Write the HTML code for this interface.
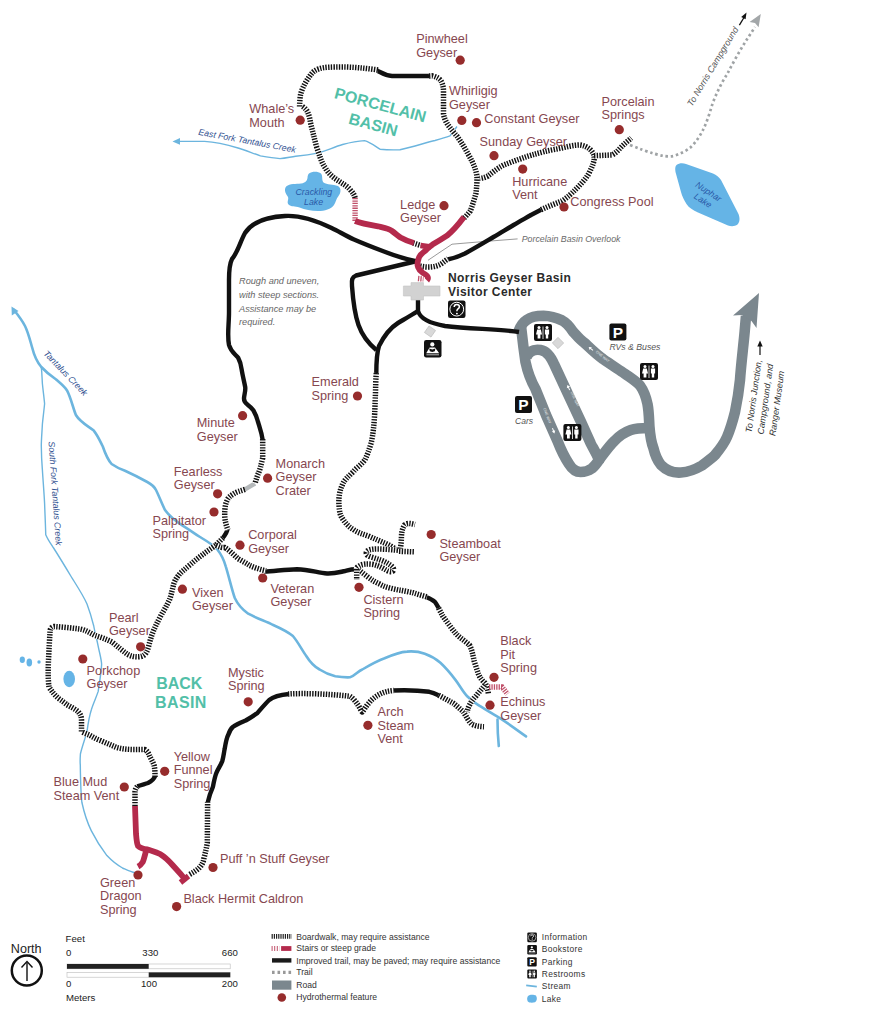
<!DOCTYPE html><html><head><meta charset="utf-8"><title>Norris Geyser Basin</title>
<style>html,body{margin:0;padding:0;background:#fff;}body{width:896px;height:1023px;overflow:hidden;}svg{display:block;}text{font-family:"Liberation Sans", sans-serif;}</style></head><body>
<svg width="896" height="1023" viewBox="0 0 896 1023">
<rect width="896" height="1023" fill="#fff"/>
<path d="M 309 173.5 C 312 171 318 171 321 173.5 C 323 176 321.5 180 323.5 182.5 C 327 185 333 184 338 186 C 341.5 188 341 193 338.5 196 C 336 199 336 202 334 205 C 331 209 325 211 318 211 C 311 211 305 209.5 299.5 207.5 C 295 206 291 207 288.5 204.5 C 286.5 202 289 199.5 288 197 C 286 194 284 191 285.5 187.5 C 287.5 184 294 184 299 183.8 C 305 183.5 307 181 307.5 178 C 307.5 176 308 174.5 309 173.5 Z" fill="#65b4e6"/>
<path d="M 676.5 165 C 679 163 683 163 686 164 L 713 173.5 C 716.5 175 719 177 721 180 L 738.5 214 C 740 218 740 222 737.5 224.5 C 735 226.5 731 226.5 728 225.5 L 698 212.5 C 693 210 689 208 686.5 204 C 684 200 682 196 681 192 L 675.5 172 C 675 169 675 166.5 676.5 165 Z" fill="#65b4e6"/>
<ellipse cx="69.2" cy="679" rx="5.8" ry="8.3" fill="#65b4e6"/>
<ellipse cx="22.3" cy="659.7" rx="2.6" ry="3.3" fill="#65b4e6"/>
<ellipse cx="29.3" cy="662.5" rx="2.8" ry="4" fill="#65b4e6"/>
<circle cx="39" cy="662" r="1.7" fill="#65b4e6"/>
<path d="M 14 310 C 18 315 22 320 25 326 C 28 332 30 340 32 347 C 34 355 37 362 41.3 367 C 46 372 51 376 55.8 379.3 C 60 383 64 386 67 390.4 C 71 398 73 408 75.9 415 C 80 422 88 426 93.75 430.6 C 98 436 100 441 102.7 446.25 C 105 453 108 460 111.6 464 C 116 467 120 469 125 470.8 C 132 474 140 478 147.3 482 C 151 484 154 486 156 490 C 159 496 162 504 165 510 C 170 517 177 522 183 525.8 C 190 530 195 534 200 537 C 205 540 212 544 217 549 C 221 554 224 560 225.9 566.8 C 229 577 232 590 234.8 598 C 238 605 243 610 248.2 613.7 C 256 618 265 621 272.8 624.8 C 280 628 287 631 292.9 636 C 298 642 302 650 306.25 656 C 310 662 315 667 319.6 669.5 C 325 673 330 675 335.3 676.2 C 340 677 345 677.5 350 677.3 C 355 676 358 671 362.3 669.5 C 370 665 377 661 384.6 658.3 C 392 655 400 652 407 651.6 C 414 651 420 652 424.8 653.8 C 431 656 436 659 440.4 662.8 C 446 668 451 674 456 680.6 C 460 686 463 692 467.2 696.25 C 471 700 475 703 478.4 705.2 C 486 710 493 714 500.7 718.6 C 509 724 517 730 526 736.4" fill="none" stroke="#6cb5de" stroke-width="2.6" stroke-linejoin="round" stroke-linecap="round"/>
<path d="M 497.5 719.5 C 497.5 728 498 738 498.8 746" fill="none" stroke="#6cb5de" stroke-width="2.6" stroke-linejoin="round" stroke-linecap="round"/>
<path d="M 41.3 367 C 42 373 42 378 42.4 383.75 C 43 390 44 397 44.6 403.8 C 44 410 43 418 42.4 424 C 42 432 41.3 440 41.3 446 C 41.5 460 42 465 42.4 470 C 43 480 44 492 44.6 503.5 C 45 515 45.5 525 45.75 534.7 C 48 540 51 544 53.6 548 C 60 558 66 568 71.4 577 C 77 586 83 595 87 604 C 90 612 92 619 93.75 626 C 95 633 97 640 98.2 646.3 C 100 655 101.6 660 101.6 664.6 C 101 675 99 685 98.2 691.4 C 96 698 93 704 91.5 709.3 C 89 717 88 724 87 731.6 C 85 739 82 747 80.4 754 C 80 760 80 762 80.3 765 C 80.5 780 81 795 81.9 802.5 C 84 812 87 822 91.25 830.6 C 96 840 101 848 106.9 855.6 C 112 861 117 865 122.5 868 C 127 870 131 872 135 872.8" fill="none" stroke="#6cb5de" stroke-width="1.4" stroke-linejoin="round"/>
<path d="M 457 126.5 L 450 135.8 C 445 137.5 440 139 435 140.5 C 425 143 412 147 400 149.7 C 394 150 386 149.8 380 149.2 C 375 146 370 142 364.5 140.6 C 357 141 350 142.5 342.6 144.5 C 334 147 326 151 317.6 153.1 C 310 154.5 302 155.5 295.6 156.2 C 290 157 286 158 280 158.6 C 273 158 267 157 260.4 155.9 C 252 153 245 150 238 148 C 228 145 215 142 204.6 141.4 L 176 141.4" fill="none" stroke="#6cb5de" stroke-width="1.4" stroke-linejoin="round"/>
<path d="M 11.5 306.5 L 11.8 315.5 L 18.5 311 Z" fill="#6cb5de"/>
<path d="M 172.5 141.4 L 180 138 L 180 144.8 Z" fill="#6cb5de"/>
<path d="M 518.4 331.6 C 520 327 522 323 526.7 320 C 532 316 538 315.8 543.5 315.8 C 551 316 557 318 562 320.4 C 567 323 570 327 573 331.6 C 577 336 580 340 584.3 342.75 C 591 349 597 355 603 359 C 610 364 618 369 625 373.8 C 631 378 636 381 640 385.5 C 644 391 646 397 647.5 404 C 649 412 649 420 649.4 426.4 C 650 434 651 442 653.4 448 C 655 455 657 460 661 465 C 667 471 674 473 681 472.5 C 690 472 696 469 702 465.5 C 708 461 712 458 715 455 C 720 449 724 444 727 437 C 730 430 733 420 735 412 C 737.5 400 739 390 740 380 C 741 365 743.5 345 744.7 331.3 L 746 316" fill="none" stroke="#7b878e" stroke-width="10.6" stroke-linejoin="round"/>
<path d="M 521 326 C 522 335 523 345 525.5 362 C 528 374 531 381 535.5 389 L 546 415 L 557.5 441 C 561 450 565 458 569 464 C 572 469 576 472 580.6 472 C 585 472 589 470.5 591.8 468.5 C 595 466 597 463 599 460 C 596 452 593 448 591 444 L 580.5 420.8 L 567.5 393 L 554.5 365 C 551 357 547 351 540.6 350 C 534 349 529 351.5 526.5 357" fill="none" stroke="#7b878e" stroke-width="10.6" stroke-linejoin="round"/>
<path d="M 599 460 C 605 452 609 446 614 441.3 C 620 435 625 432 630.8 430 C 637 428 642 428 648 428" fill="none" stroke="#7b878e" stroke-width="10.6" stroke-linejoin="round"/>
<path d="M 759 293 L 733 315.5 L 741.5 315 L 751.5 321 L 756.5 328 Z" fill="#7b878e"/>
<path d="M 428 260.3 L 440 252.2 L 452 244.2 L 484.2 241.5 L 517.6 238.9" fill="none" stroke="#808080" stroke-width="0.8"/>
<path d="M 630 145 C 640 149 648 152 654 153.6 C 662 156 668 157 673.4 156 C 680 154 686 151 690.6 147.4 C 696 142 700 136 703 130 C 707 122 710 112 712.7 103 C 717 92 722 82 727.4 73.7 C 733 63 740 50 747 39.3 L 755 27" fill="none" stroke="#9fa3a5" stroke-width="2.7" stroke-dasharray="2.5 2.8"/>
<path d="M 760.8 13.9 L 749.6 22 L 755 22.9 L 758.6 27.3 Z" fill="#a3a7a9"/>
<path d="M 739.4 25.1 L 744 17.5" stroke="#111" stroke-width="1.3"/><path d="M 746.5 12.6 L 741.2 17 L 745.6 19.3 Z" fill="#111"/>
<path d="M 255 483.5 L 245 489.4" stroke="#b4b8ba" stroke-width="4.5"/>
<path d="M 417 261.5 C 405 259 393 255 384 251.5 C 372 247 362 243 354 239.5 C 346 236 339 231.5 331.6 228 C 318 221.5 300 215 285 216 C 265 217 252 222 245 233 C 240 242 238 252 232 259 C 229 265 229 272 229 280 L 229 312 C 229 325 227 335 229 345 C 231 352 235 354 238.1 357.6 C 240 361 241 365 241.6 369.3 C 242.5 375 244 381 245.2 387 C 245.8 391 244 395 244 398.7 C 244 401 245.5 403 247.5 404.6 C 250 406.5 252 408 253.4 410.4 C 255.5 414 257 418 258.1 422.2 C 259.5 427 261.5 432 262.7 440" fill="none" stroke="#111" stroke-width="4.4" stroke-linejoin="round"/>
<path d="M 417 261 L 356 275.5 C 352 277 351.5 280 352 286 C 353 300 355 315 358.5 325 C 362 335 368 343 376.3 350" fill="none" stroke="#111" stroke-width="4.4" stroke-linejoin="round"/>
<path d="M 418 299 L 418 311 C 420 318 428 323 445 326 C 470 329 500 329 519 332" fill="none" stroke="#111" stroke-width="4.4" stroke-linejoin="round"/>
<path d="M 418 311 C 410 316 403 320 398 323 C 390 328 384 336 379 346 C 377 352 376.3 358 376.3 374" fill="none" stroke="#111" stroke-width="4.4" stroke-linejoin="round"/>
<path d="M 447.5 259.5 C 455 258 460 256 465 253.5 C 475 248 485 242 493.5 237 C 500 233 507 229 513.6 225 C 520 221 526 218 531 215 L 542 209.3" fill="none" stroke="#111" stroke-width="4.4" stroke-linejoin="round"/>
<path d="M 377 70.5 C 382 73 385 75.5 392 76 L 430 76" fill="none" stroke="#111" stroke-width="4.4" stroke-linejoin="round"/>
<path d="M 227.5 528.5 C 227.5 531 226 534 222 539" fill="none" stroke="#111" stroke-width="4.4" stroke-linejoin="round"/>
<path d="M 155 776.25 C 154 779 152 781 148 783 C 145 784 141 785 137.3 786.3" fill="none" stroke="#111" stroke-width="4.4" stroke-linejoin="round"/>
<path d="M 207.6 803 C 209 797 211 791 212.9 786.9 C 214 781 215 776 216.4 772.8 C 218.5 768 221 765 222.3 761 C 223.5 757 224 752 224.6 749.3 C 225.5 744 226.5 738 228.1 735.2 C 229.5 731 231 728.5 232.8 727 C 237 724 241 722.5 245.7 720.5 C 250 718 254 715.5 257.5 712.9 C 261 709 265 704 269.2 700 C 273 697 279 695 289 694" fill="none" stroke="#111" stroke-width="4.4" stroke-linejoin="round"/>
<path d="M 393 690.5 C 405 690 420 690.5 429.3 691.8 C 433 692.5 436 694 439 695.5" fill="none" stroke="#111" stroke-width="4.4" stroke-linejoin="round"/>
<path d="M 264 571.5 C 275 571 285 569.5 297 569.2 C 310 569.5 318 573 327 573.5 C 335 573.8 340 572 345 571 C 349 570 352 569 357 569.3" fill="none" stroke="#111" stroke-width="4.4" stroke-linejoin="round"/>
<path d="M 426 597 C 430 598.5 433 600 435 602 C 436.5 604 437.5 606 439.2 609" fill="none" stroke="#111" stroke-width="4.4" stroke-linejoin="round"/>
<path d="M 376.3 373 L 375.8 380 C 375.5 395 375 405 374.7 413.5 C 374 425 373 435 371.3 442.5 C 369 450 367 456 364.6 460.4 C 360 466 356 468 353.5 471.5 C 348 477 344 480 342.3 485 C 339 492 338.5 500 339 505 C 339.5 512 340 515 342.3 518.4 C 346 524 349 527 353.5 529.6 C 358 533 363 534 369 536.25 C 375 539 380 541 384.7 543 C 389 545 393 547 396 549.6" fill="none" stroke="#fff" stroke-width="5.5" stroke-linejoin="round"/>
<path d="M 376.3 373 L 375.8 380 C 375.5 395 375 405 374.7 413.5 C 374 425 373 435 371.3 442.5 C 369 450 367 456 364.6 460.4 C 360 466 356 468 353.5 471.5 C 348 477 344 480 342.3 485 C 339 492 338.5 500 339 505 C 339.5 512 340 515 342.3 518.4 C 346 524 349 527 353.5 529.6 C 358 533 363 534 369 536.25 C 375 539 380 541 384.7 543 C 389 545 393 547 396 549.6" fill="none" stroke="#111" stroke-width="5.5" stroke-dasharray="1.4 1.3" stroke-linejoin="round"/>
<path d="M 420 266 C 428 268 436 267 441 264 C 444 262 446 260 448 259" fill="none" stroke="#fff" stroke-width="5.5" stroke-linejoin="round"/>
<path d="M 420 266 C 428 268 436 267 441 264 C 444 262 446 260 448 259" fill="none" stroke="#111" stroke-width="5.5" stroke-dasharray="1.4 1.3" stroke-linejoin="round"/>
<path d="M 541 209.7 C 550 205.5 556 203.5 562 201 C 568 197 572 193 575 190 C 580 185 585 180 588.6 174 C 592 167 595 161 594 156 C 593 151 588 146 580 145 C 575 145 570 146 566 147 C 558 149 550 150 544 151.7 C 535 154 528 156 521.6 158.4 C 514 161 509 163 503.75 165 C 496 169 492 173 488 176 C 484 178 480 178.5 477 178.5" fill="none" stroke="#fff" stroke-width="5.5" stroke-linejoin="round"/>
<path d="M 541 209.7 C 550 205.5 556 203.5 562 201 C 568 197 572 193 575 190 C 580 185 585 180 588.6 174 C 592 167 595 161 594 156 C 593 151 588 146 580 145 C 575 145 570 146 566 147 C 558 149 550 150 544 151.7 C 535 154 528 156 521.6 158.4 C 514 161 509 163 503.75 165 C 496 169 492 173 488 176 C 484 178 480 178.5 477 178.5" fill="none" stroke="#111" stroke-width="5.5" stroke-dasharray="1.4 1.3" stroke-linejoin="round"/>
<path d="M 594 155.7 L 612 155 C 616 153 618 150.5 620.2 148.1 C 624 144 628 141 631.3 138" fill="none" stroke="#fff" stroke-width="5.5" stroke-linejoin="round"/>
<path d="M 594 155.7 L 612 155 C 616 153 618 150.5 620.2 148.1 C 624 144 628 141 631.3 138" fill="none" stroke="#111" stroke-width="5.5" stroke-dasharray="1.4 1.3" stroke-linejoin="round"/>
<path d="M 378 70 C 365 68 352 67 342.6 67 C 332 67 324 67 319 68.8 C 315 70 313 72 311.3 74.1 C 309 77 307 80 305 83.5 C 303 87 301 92 300.3 96 C 299.8 100 299.6 104 299.6 107.5" fill="none" stroke="#fff" stroke-width="5.5" stroke-linejoin="round"/>
<path d="M 378 70 C 365 68 352 67 342.6 67 C 332 67 324 67 319 68.8 C 315 70 313 72 311.3 74.1 C 309 77 307 80 305 83.5 C 303 87 301 92 300.3 96 C 299.8 100 299.6 104 299.6 107.5" fill="none" stroke="#111" stroke-width="5.5" stroke-dasharray="1.4 1.3" stroke-linejoin="round"/>
<path d="M 302.5 106.5 C 305 108 306.5 110 307.4 111.6 C 309 115 310 119 310.5 122.6 C 311.5 127 312.5 131 313.6 135.1 C 314.5 139 315.5 143 316.8 147.6 C 318 151 319 154 320 157 C 321.5 161 323 165 325.4 168 C 327 171 329 173.5 331.6 175.8 C 335 179 339 181 342.6 183.6 C 345 185 348 187 350.4 190 C 353 193 354.5 195 355.1 198" fill="none" stroke="#fff" stroke-width="5.5" stroke-linejoin="round"/>
<path d="M 302.5 106.5 C 305 108 306.5 110 307.4 111.6 C 309 115 310 119 310.5 122.6 C 311.5 127 312.5 131 313.6 135.1 C 314.5 139 315.5 143 316.8 147.6 C 318 151 319 154 320 157 C 321.5 161 323 165 325.4 168 C 327 171 329 173.5 331.6 175.8 C 335 179 339 181 342.6 183.6 C 345 185 348 187 350.4 190 C 353 193 354.5 195 355.1 198" fill="none" stroke="#111" stroke-width="5.5" stroke-dasharray="1.4 1.3" stroke-linejoin="round"/>
<path d="M 429 76 L 432.3 75.8 C 437 77 440 79 441.25 81.4 C 443 85 443.5 88 443.5 91.4 L 443.5 113.75 C 444 118 446 122 448 125 C 451 129 454 133 456.9 136 C 461 142 465 148 468 154 C 471 159 473 163 474.7 167.3 C 476 171 477 175 477 178.5 C 477 184 476.5 189 475.8 194 C 474 200 472 207 470.3 211 C 468 214 466 216 464 218" fill="none" stroke="#fff" stroke-width="5.5" stroke-linejoin="round"/>
<path d="M 429 76 L 432.3 75.8 C 437 77 440 79 441.25 81.4 C 443 85 443.5 88 443.5 91.4 L 443.5 113.75 C 444 118 446 122 448 125 C 451 129 454 133 456.9 136 C 461 142 465 148 468 154 C 471 159 473 163 474.7 167.3 C 476 171 477 175 477 178.5 C 477 184 476.5 189 475.8 194 C 474 200 472 207 470.3 211 C 468 214 466 216 464 218" fill="none" stroke="#111" stroke-width="5.5" stroke-dasharray="1.4 1.3" stroke-linejoin="round"/>
<path d="M 413 243 L 421 245.5" fill="none" stroke="#fff" stroke-width="5.5" stroke-linejoin="round"/>
<path d="M 413 243 L 421 245.5" fill="none" stroke="#111" stroke-width="5.5" stroke-dasharray="1.4 1.3" stroke-linejoin="round"/>
<path d="M 262.7 439 C 262.7 448 262.7 453 262.7 458 C 261 465 260 470 258.2 473.75 C 257 477 256 480 255 483.5" fill="none" stroke="#fff" stroke-width="5.5" stroke-linejoin="round"/>
<path d="M 262.7 439 C 262.7 448 262.7 453 262.7 458 C 261 465 260 470 258.2 473.75 C 257 477 256 480 255 483.5" fill="none" stroke="#111" stroke-width="5.5" stroke-dasharray="1.4 1.3" stroke-linejoin="round"/>
<path d="M 245 489.4 C 240 491 236 492 233.7 493.8 C 230 496 228 498 227 500.5 C 225 505 224.7 510 224.7 514 C 224.7 520 226 525 228 530" fill="none" stroke="#fff" stroke-width="5.5" stroke-linejoin="round"/>
<path d="M 245 489.4 C 240 491 236 492 233.7 493.8 C 230 496 228 498 227 500.5 C 225 505 224.7 510 224.7 514 C 224.7 520 226 525 228 530" fill="none" stroke="#111" stroke-width="5.5" stroke-dasharray="1.4 1.3" stroke-linejoin="round"/>
<path d="M 223 538 L 215.8 545.2" fill="none" stroke="#fff" stroke-width="5.5" stroke-linejoin="round"/>
<path d="M 223 538 L 215.8 545.2" fill="none" stroke="#111" stroke-width="5.5" stroke-dasharray="1.4 1.3" stroke-linejoin="round"/>
<path d="M 215.8 545.2 C 206 552 197 558.5 191 564 C 185 569 180.5 572.5 178.4 575.6 C 175.5 579 174 582.5 173.3 585.7 C 172 591 171 596 169.5 599.7 C 167 605 164.5 609.5 161.9 613.7 C 159 619 156.5 624 154.3 628.9 C 152 634 150.5 639 149.2 644.1 C 148.5 647 147.8 649.5 146.7 651.7 C 145.5 654.5 143 656.5 139.1 656.8 C 135 657 131 656.5 127 654 C 123 651 118 647 112 642 C 106 639 100 637 95 635.5 C 90 633 86 630 80 629 C 72 628 62 627 54 626.5 C 51 627 50 629 50 632 C 49.5 640 49 650 48.5 660 C 48 670 48 680 49 687 C 52 692 55 695 58 698 C 62 701 65 703 67 704.8 C 71 707 75 709 78 711.5 C 80 714 81.5 716 81.5 720 L 81.5 731.6 C 84 733 87 734 89.3 735 C 93 737 96 739 100.4 740.5 C 106 743 111 745 116 747.2 C 122 749 128 749.5 134 749.5 L 145 749.5 C 148 752 149 754 149.6 756 C 151 759 153 762 154 765 C 155 769 155 773 155 777" fill="none" stroke="#fff" stroke-width="5.5" stroke-linejoin="round"/>
<path d="M 215.8 545.2 C 206 552 197 558.5 191 564 C 185 569 180.5 572.5 178.4 575.6 C 175.5 579 174 582.5 173.3 585.7 C 172 591 171 596 169.5 599.7 C 167 605 164.5 609.5 161.9 613.7 C 159 619 156.5 624 154.3 628.9 C 152 634 150.5 639 149.2 644.1 C 148.5 647 147.8 649.5 146.7 651.7 C 145.5 654.5 143 656.5 139.1 656.8 C 135 657 131 656.5 127 654 C 123 651 118 647 112 642 C 106 639 100 637 95 635.5 C 90 633 86 630 80 629 C 72 628 62 627 54 626.5 C 51 627 50 629 50 632 C 49.5 640 49 650 48.5 660 C 48 670 48 680 49 687 C 52 692 55 695 58 698 C 62 701 65 703 67 704.8 C 71 707 75 709 78 711.5 C 80 714 81.5 716 81.5 720 L 81.5 731.6 C 84 733 87 734 89.3 735 C 93 737 96 739 100.4 740.5 C 106 743 111 745 116 747.2 C 122 749 128 749.5 134 749.5 L 145 749.5 C 148 752 149 754 149.6 756 C 151 759 153 762 154 765 C 155 769 155 773 155 777" fill="none" stroke="#111" stroke-width="5.5" stroke-dasharray="1.4 1.3" stroke-linejoin="round"/>
<path d="M 137.3 786.3 C 136 788 135 790 135 792 L 135 806" fill="none" stroke="#fff" stroke-width="5.5" stroke-linejoin="round"/>
<path d="M 137.3 786.3 C 136 788 135 790 135 792 L 135 806" fill="none" stroke="#111" stroke-width="5.5" stroke-dasharray="1.4 1.3" stroke-linejoin="round"/>
<path d="M 189.7 874.4 C 194 872 197 870 199 868 C 202 865 203.5 862 204 858 C 205.5 852 206.5 848 207.3 843 L 207.6 802" fill="none" stroke="#fff" stroke-width="5.5" stroke-linejoin="round"/>
<path d="M 189.7 874.4 C 194 872 197 870 199 868 C 202 865 203.5 862 204 858 C 205.5 852 206.5 848 207.3 843 L 207.6 802" fill="none" stroke="#111" stroke-width="5.5" stroke-dasharray="1.4 1.3" stroke-linejoin="round"/>
<path d="M 288 694 C 305 693 330 694 350 696.25 C 353 698 356 702 358 705 C 360 708 361 711 362.3 711.9 C 364 710 366 706 369 703 C 372 699 376 696 380.2 694 C 384 692 388 691 394 690.5" fill="none" stroke="#fff" stroke-width="5.5" stroke-linejoin="round"/>
<path d="M 288 694 C 305 693 330 694 350 696.25 C 353 698 356 702 358 705 C 360 708 361 711 362.3 711.9 C 364 710 366 706 369 703 C 372 699 376 696 380.2 694 C 384 692 388 691 394 690.5" fill="none" stroke="#111" stroke-width="5.5" stroke-dasharray="1.4 1.3" stroke-linejoin="round"/>
<path d="M 438.5 695.2 C 444 698 449 701 453.7 703.4 C 457 706 460 709 463.3 711.7 C 466 716 468.5 721 471.5 724 C 475 726 479 726.5 484 726.7" fill="none" stroke="#fff" stroke-width="5.5" stroke-linejoin="round"/>
<path d="M 438.5 695.2 C 444 698 449 701 453.7 703.4 C 457 706 460 709 463.3 711.7 C 466 716 468.5 721 471.5 724 C 475 726 479 726.5 484 726.7" fill="none" stroke="#111" stroke-width="5.5" stroke-dasharray="1.4 1.3" stroke-linejoin="round"/>
<path d="M 215.8 545.2 C 220 547 222 548 224.7 547.4 C 229 550 234 555 238 558.6 C 242 561 246 563 249.3 565.3 C 254 567.5 260 569.5 266 570.8" fill="none" stroke="#fff" stroke-width="5.5" stroke-linejoin="round"/>
<path d="M 215.8 545.2 C 220 547 222 548 224.7 547.4 C 229 550 234 555 238 558.6 C 242 561 246 563 249.3 565.3 C 254 567.5 260 569.5 266 570.8" fill="none" stroke="#111" stroke-width="5.5" stroke-dasharray="1.4 1.3" stroke-linejoin="round"/>
<path d="M 356.7 568 C 360 571 364 574 367.9 577 C 372 580 375 582 379 583.7 C 383 586 386 587 390.2 588.1 C 394 589 398 590 401.4 590.4 C 405 591 409 592 412.5 592.6 C 417 594 422 595.5 427 597" fill="none" stroke="#fff" stroke-width="5.5" stroke-linejoin="round"/>
<path d="M 356.7 568 C 360 571 364 574 367.9 577 C 372 580 375 582 379 583.7 C 383 586 386 587 390.2 588.1 C 394 589 398 590 401.4 590.4 C 405 591 409 592 412.5 592.6 C 417 594 422 595.5 427 597" fill="none" stroke="#111" stroke-width="5.5" stroke-dasharray="1.4 1.3" stroke-linejoin="round"/>
<path d="M 438.6 608 C 440 611 441.5 613.5 442.7 615.9 C 447 622 452 629 456 633.75 C 460 638 465 641 469.5 645 C 472 650 473 655 474 660.5 C 475.5 665 477 670 478.4 674 C 480 678 482.5 681 485 683 C 487 686 488 690 488.4 694" fill="none" stroke="#fff" stroke-width="5.5" stroke-linejoin="round"/>
<path d="M 438.6 608 C 440 611 441.5 613.5 442.7 615.9 C 447 622 452 629 456 633.75 C 460 638 465 641 469.5 645 C 472 650 473 655 474 660.5 C 475.5 665 477 670 478.4 674 C 480 678 482.5 681 485 683 C 487 686 488 690 488.4 694" fill="none" stroke="#111" stroke-width="5.5" stroke-dasharray="1.4 1.3" stroke-linejoin="round"/>
<path d="M 485 685 C 482 689 479 692 476 696 C 473 699 471 702 469.5 705.2 C 468 708 467.5 710 467.2 712" fill="none" stroke="#fff" stroke-width="5.5" stroke-linejoin="round"/>
<path d="M 485 685 C 482 689 479 692 476 696 C 473 699 471 702 469.5 705.2 C 468 708 467.5 710 467.2 712" fill="none" stroke="#111" stroke-width="5.5" stroke-dasharray="1.4 1.3" stroke-linejoin="round"/>
<path d="M 356.7 569 L 356.7 580" fill="none" stroke="#fff" stroke-width="5.5" stroke-linejoin="round"/>
<path d="M 356.7 569 L 356.7 580" fill="none" stroke="#111" stroke-width="5.5" stroke-dasharray="1.4 1.3" stroke-linejoin="round"/>
<path d="M 400.5 550.5 C 395 550 385 549 377 549 C 371 549 367 550 366.3 552.4 C 366 555 368 556 371 557 C 378 559 384 561 388 563.6 C 392 566 394 568 393.6 570 C 393 572 391 572 388 571 C 384 569 380 566 373.5 564.5 C 367 563.5 362 564 359 566 C 357 567 356.5 568 356.5 569" fill="none" stroke="#fff" stroke-width="5.5" stroke-linejoin="round"/>
<path d="M 400.5 550.5 C 395 550 385 549 377 549 C 371 549 367 550 366.3 552.4 C 366 555 368 556 371 557 C 378 559 384 561 388 563.6 C 392 566 394 568 393.6 570 C 393 572 391 572 388 571 C 384 569 380 566 373.5 564.5 C 367 563.5 362 564 359 566 C 357 567 356.5 568 356.5 569" fill="none" stroke="#111" stroke-width="5.5" stroke-dasharray="1.4 1.3" stroke-linejoin="round"/>
<path d="M 400.3 549 C 401 545 401.4 540 401.4 537.9 C 401.5 533 402 529 404.7 524.8 C 406 523.6 408 523.4 409.2 523.4 C 411 523.5 413 524 415 524.5" fill="none" stroke="#fff" stroke-width="5.5" stroke-linejoin="round"/>
<path d="M 400.3 549 C 401 545 401.4 540 401.4 537.9 C 401.5 533 402 529 404.7 524.8 C 406 523.6 408 523.4 409.2 523.4 C 411 523.5 413 524 415 524.5" fill="none" stroke="#111" stroke-width="5.5" stroke-dasharray="1.4 1.3" stroke-linejoin="round"/>
<path d="M 399 551.3 L 415 551.9" fill="none" stroke="#fff" stroke-width="5.5" stroke-linejoin="round"/>
<path d="M 399 551.3 L 415 551.9" fill="none" stroke="#111" stroke-width="5.5" stroke-dasharray="1.4 1.3" stroke-linejoin="round"/>
<path d="M 355.1 198 L 355.1 221" fill="none" stroke="#c0506a" stroke-width="5.4" stroke-dasharray="1.3 1.1"/>
<path d="M 489 687 L 502 687 L 507.5 694" fill="none" stroke="#c0506a" stroke-width="5.4" stroke-dasharray="1.3 1.1"/>
<path d="M 418 278.5 L 423.5 279" fill="none" stroke="#c0506a" stroke-width="5.4" stroke-dasharray="1.3 1.1"/>
<path d="M 355.1 221 C 360 223 370 225 378 226.3 C 385 228 390 229 391.6 230.8 C 395 233 398 236 400.5 237.5 C 405 240 410 242 414 243" fill="none" stroke="#b42a4c" stroke-width="5.8" stroke-linejoin="round" stroke-linecap="butt"/>
<path d="M 420.5 245.5 L 431 247" fill="none" stroke="#b42a4c" stroke-width="5.8" stroke-linejoin="round" stroke-linecap="butt"/>
<path d="M 464 217 C 458 225 454 230 447 235.7 C 442 239 437 242 432.5 244.6 C 429 247 427 249 424.6 251.3 C 421 254 419 256 418.5 259 C 417.5 262 417 265 418 267 C 419 270 421 271.5 423 273 C 426 274.5 428 276 428 278 C 428 279 427.5 280 427 280.5" fill="none" stroke="#b42a4c" stroke-width="5.8" stroke-linejoin="round" stroke-linecap="butt"/>
<path d="M 135 806 L 136 833.75 C 136.5 840 137 844 138 846 C 140 848 144 849 147.5 849.4 C 152 851 156 852 160 854 C 165 857 169 861 172.5 865 C 176 869 180 873 184 878" fill="none" stroke="#b42a4c" stroke-width="5.8" stroke-linejoin="round" stroke-linecap="butt"/>
<path d="M 146 851 C 145 855 144 859 142.8 862 C 141.5 864 140 865.5 138 866.6" fill="none" stroke="#b42a4c" stroke-width="5.8" stroke-linejoin="round" stroke-linecap="butt"/>
<path d="M 180.5 882.5 L 188.5 876" stroke="#b42a4c" stroke-width="5.5"/>
<path d="M 411 282.6 H 423.5 V 286 H 440 V 296 H 423.5 V 300 H 411 V 296 H 403.4 V 286 H 411 Z" fill="#d2d2d2" stroke="#c4c4c4" stroke-width="0.6"/>
<rect x="426" y="327.5" width="8" height="8" transform="rotate(35 430 331.5)" fill="#d9d9d9" stroke="#b8b8b8" stroke-width="0.6"/>
<rect x="554" y="339" width="8" height="8" transform="rotate(45 558 343)" fill="#d9d9d9" stroke="#b8b8b8" stroke-width="0.6"/>
<g transform="translate(448,300.4) scale(1.0)"><rect x="0" y="0" width="17.5" height="17.5" rx="2.2" fill="#111"/><circle cx="8.75" cy="8.75" r="6.9" fill="none" stroke="#fff" stroke-width="1"/><path d="M6.2 6.6 C6.2 4.9 7.4 4 8.8 4 C10.3 4 11.4 5 11.4 6.4 C11.4 7.8 10.3 8.3 9.6 8.9 C9 9.4 8.9 9.9 8.9 10.9" fill="none" stroke="#fff" stroke-width="1.5"/><circle cx="8.9" cy="13.2" r="0.95" fill="#fff"/></g>
<g transform="translate(424,340) scale(1.0)"><rect x="0" y="0" width="17.5" height="17.5" rx="2.2" fill="#111"/><circle cx="8.3" cy="4.4" r="2.1" fill="#fff"/><path d="M5.6 7.4 H11 L15.2 13.2 H2.2 Z" fill="#fff"/><path d="M5.2 8.6 L8.3 9.6 L11.4 8.6 L10.8 11.2 L8.3 12 L5.8 11.2 Z" fill="#111"/><path d="M2.4 14.8 H15" stroke="#fff" stroke-width="0.7"/></g>
<g transform="translate(534,324) scale(1.0)"><rect x="0" y="0" width="18" height="17" rx="2" fill="#111"/><circle cx="5" cy="3.6" r="1.5" fill="#fff"/><path d="M3.2 5.6 H6.8 L8 10.5 H6.4 V14.5 H3.6 V10.5 H2 Z" fill="#fff"/><rect x="8.6" y="2.5" width="0.8" height="12.5" fill="#fff"/><circle cx="13" cy="3.6" r="1.5" fill="#fff"/><path d="M10.9 5.6 H15.1 V10.5 H14.2 V14.5 H11.8 V10.5 H10.9 Z" fill="#fff"/></g>
<g transform="translate(640,363) scale(1.0)"><rect x="0" y="0" width="18" height="17" rx="2" fill="#111"/><circle cx="5" cy="3.6" r="1.5" fill="#fff"/><path d="M3.2 5.6 H6.8 L8 10.5 H6.4 V14.5 H3.6 V10.5 H2 Z" fill="#fff"/><rect x="8.6" y="2.5" width="0.8" height="12.5" fill="#fff"/><circle cx="13" cy="3.6" r="1.5" fill="#fff"/><path d="M10.9 5.6 H15.1 V10.5 H14.2 V14.5 H11.8 V10.5 H10.9 Z" fill="#fff"/></g>
<g transform="translate(563.4,424) scale(1.0)"><rect x="0" y="0" width="18" height="17" rx="2" fill="#111"/><circle cx="5" cy="3.6" r="1.5" fill="#fff"/><path d="M3.2 5.6 H6.8 L8 10.5 H6.4 V14.5 H3.6 V10.5 H2 Z" fill="#fff"/><rect x="8.6" y="2.5" width="0.8" height="12.5" fill="#fff"/><circle cx="13" cy="3.6" r="1.5" fill="#fff"/><path d="M10.9 5.6 H15.1 V10.5 H14.2 V14.5 H11.8 V10.5 H10.9 Z" fill="#fff"/></g>
<g transform="translate(609.4,323.5) scale(1.0)"><rect x="0" y="0" width="17" height="17" rx="2" fill="#111"/><text x="8.5" y="14" text-anchor="middle" font-family='"Liberation Sans", sans-serif' font-weight="bold" font-size="15.5" fill="#fff">P</text></g>
<g transform="translate(515,396) scale(1.0)"><rect x="0" y="0" width="17" height="17" rx="2" fill="#111"/><text x="8.5" y="14" text-anchor="middle" font-family='"Liberation Sans", sans-serif' font-weight="bold" font-size="15.5" fill="#fff">P</text></g>
<circle cx="460.2" cy="60.2" r="4.6" fill="#962c2c"/>
<circle cx="300.2" cy="120.2" r="4.6" fill="#962c2c"/>
<circle cx="461.8" cy="120.4" r="4.6" fill="#962c2c"/>
<circle cx="476.5" cy="122.7" r="4.6" fill="#962c2c"/>
<circle cx="494" cy="155.7" r="4.6" fill="#962c2c"/>
<circle cx="522.7" cy="169.1" r="4.6" fill="#962c2c"/>
<circle cx="564" cy="207" r="4.6" fill="#962c2c"/>
<circle cx="444" cy="205.7" r="4.6" fill="#962c2c"/>
<circle cx="619.3" cy="129.7" r="4.6" fill="#962c2c"/>
<circle cx="357.5" cy="396" r="4.6" fill="#962c2c"/>
<circle cx="242.6" cy="415.7" r="4.6" fill="#962c2c"/>
<circle cx="267.6" cy="478.2" r="4.6" fill="#962c2c"/>
<circle cx="217.6" cy="493.8" r="4.6" fill="#962c2c"/>
<circle cx="214" cy="512" r="4.6" fill="#962c2c"/>
<circle cx="240" cy="545.2" r="4.6" fill="#962c2c"/>
<circle cx="262.7" cy="578" r="4.6" fill="#962c2c"/>
<circle cx="182.4" cy="589.2" r="4.6" fill="#962c2c"/>
<circle cx="431.2" cy="534.5" r="4.6" fill="#962c2c"/>
<circle cx="359" cy="587.3" r="4.6" fill="#962c2c"/>
<circle cx="140.6" cy="646.8" r="4.6" fill="#962c2c"/>
<circle cx="82.8" cy="659" r="4.6" fill="#962c2c"/>
<circle cx="494" cy="677.3" r="4.6" fill="#962c2c"/>
<circle cx="490" cy="705.2" r="4.6" fill="#962c2c"/>
<circle cx="367.9" cy="725.3" r="4.6" fill="#962c2c"/>
<circle cx="248.2" cy="701.8" r="4.6" fill="#962c2c"/>
<circle cx="164.7" cy="771.3" r="4.6" fill="#962c2c"/>
<circle cx="124.3" cy="787" r="4.6" fill="#962c2c"/>
<circle cx="213" cy="867.5" r="4.6" fill="#962c2c"/>
<circle cx="138" cy="875" r="4.6" fill="#962c2c"/>
<circle cx="176.6" cy="906.6" r="4.6" fill="#962c2c"/>
<text x="416.25" y="43" font-size="12.7" fill="#864750"><tspan x="416.25">Pinwheel</tspan><tspan x="416.25" dy="13.5">Geyser</tspan></text>
<text x="249.3" y="113" font-size="12.7" fill="#864750"><tspan x="249.3">Whale’s</tspan><tspan x="249.3" dy="13.5">Mouth</tspan></text>
<text x="449" y="95.2" font-size="12.7" fill="#864750"><tspan x="449">Whirligig</tspan><tspan x="449" dy="13.5">Geyser</tspan></text>
<text x="484.3" y="122.7" font-size="12.7" fill="#864750"><tspan x="484.3">Constant Geyser</tspan></text>
<text x="479.6" y="145.7" font-size="12.7" fill="#864750"><tspan x="479.6">Sunday Geyser</tspan></text>
<text x="601.6" y="105.6" font-size="12.7" fill="#864750"><tspan x="601.6">Porcelain</tspan><tspan x="601.6" dy="13.5">Springs</tspan></text>
<text x="512.2" y="185.6" font-size="12.7" fill="#864750"><tspan x="512.2">Hurricane</tspan><tspan x="512.2" dy="13.5">Vent</tspan></text>
<text x="570.3" y="205.7" font-size="12.7" fill="#864750"><tspan x="570.3">Congress Pool</tspan></text>
<text x="400.1" y="208.7" font-size="12.7" fill="#864750"><tspan x="400.1">Ledge</tspan><tspan x="400.1" dy="13.5">Geyser</tspan></text>
<text x="311.6" y="386.4" font-size="12.7" fill="#864750"><tspan x="311.6">Emerald</tspan><tspan x="311.6" dy="13.5">Spring</tspan></text>
<text x="196.8" y="427.3" font-size="12.7" fill="#864750"><tspan x="196.8">Minute</tspan><tspan x="196.8" dy="13.5">Geyser</tspan></text>
<text x="275.6" y="467.7" font-size="12.7" fill="#864750"><tspan x="275.6">Monarch</tspan><tspan x="275.6" dy="13.5">Geyser</tspan><tspan x="275.6" dy="13.5">Crater</tspan></text>
<text x="173.8" y="475.5" font-size="12.7" fill="#864750"><tspan x="173.8">Fearless</tspan><tspan x="173.8" dy="13.5">Geyser</tspan></text>
<text x="152.5" y="524.7" font-size="12.7" fill="#864750"><tspan x="152.5">Palpitator</tspan><tspan x="152.5" dy="13.5">Spring</tspan></text>
<text x="248.2" y="539" font-size="12.7" fill="#864750"><tspan x="248.2">Corporal</tspan><tspan x="248.2" dy="13.5">Geyser</tspan></text>
<text x="439.4" y="547.9" font-size="12.7" fill="#864750"><tspan x="439.4">Steamboat</tspan><tspan x="439.4" dy="13.5">Geyser</tspan></text>
<text x="192" y="596.5" font-size="12.7" fill="#864750"><tspan x="192">Vixen</tspan><tspan x="192" dy="13.5">Geyser</tspan></text>
<text x="270.5" y="592.9" font-size="12.7" fill="#864750"><tspan x="270.5">Veteran</tspan><tspan x="270.5" dy="13.5">Geyser</tspan></text>
<text x="363.4" y="603.6" font-size="12.7" fill="#864750"><tspan x="363.4">Cistern</tspan><tspan x="363.4" dy="13.5">Spring</tspan></text>
<text x="109" y="621.8" font-size="12.7" fill="#864750"><tspan x="109">Pearl</tspan><tspan x="109" dy="13.5">Geyser</tspan></text>
<text x="86.6" y="674.7" font-size="12.7" fill="#864750"><tspan x="86.6">Porkchop</tspan><tspan x="86.6" dy="13.5">Geyser</tspan></text>
<text x="500.3" y="645" font-size="12.7" fill="#864750"><tspan x="500.3">Black</tspan><tspan x="500.3" dy="13.5">Pit</tspan><tspan x="500.3" dy="13.5">Spring</tspan></text>
<text x="500.3" y="706.3" font-size="12.7" fill="#864750"><tspan x="500.3">Echinus</tspan><tspan x="500.3" dy="13.5">Geyser</tspan></text>
<text x="228" y="676.6" font-size="12.7" fill="#864750"><tspan x="228">Mystic</tspan><tspan x="228" dy="13.5">Spring</tspan></text>
<text x="377.5" y="716.3" font-size="12.7" fill="#864750"><tspan x="377.5">Arch</tspan><tspan x="377.5" dy="13.5">Steam</tspan><tspan x="377.5" dy="13.5">Vent</tspan></text>
<text x="173.7" y="760.6" font-size="12.7" fill="#864750"><tspan x="173.7">Yellow</tspan><tspan x="173.7" dy="13.5">Funnel</tspan><tspan x="173.7" dy="13.5">Spring</tspan></text>
<text x="53.6" y="786.3" font-size="12.7" fill="#864750"><tspan x="53.6">Blue Mud</tspan><tspan x="53.6" dy="13.5">Steam Vent</tspan></text>
<text x="220" y="863.4" font-size="12.7" fill="#864750"><tspan x="220">Puff ’n Stuff Geyser</tspan></text>
<text x="100" y="886.9" font-size="12.7" fill="#864750"><tspan x="100">Green</tspan><tspan x="100" dy="13.5">Dragon</tspan><tspan x="100" dy="13.5">Spring</tspan></text>
<text x="183.4" y="903" font-size="12.7" fill="#864750"><tspan x="183.4">Black Hermit Caldron</tspan></text>
<text transform="translate(333.5 98) rotate(15)" font-size="16" font-weight="bold" fill="#52bfa8"><tspan x="0" y="0">PORCELAIN</tspan><tspan x="20.5" y="21">BASIN</tspan></text>
<text x="156.2" y="689" font-size="16" font-weight="bold" fill="#52bfa8">BACK</text>
<text x="155" y="708" font-size="16" font-weight="bold" letter-spacing="0.4" fill="#52bfa8">BASIN</text>
<text font-size="9.2" font-style="italic" fill="#666"><tspan x="239" y="284">Rough and uneven,</tspan><tspan x="239" y="297.8">with steep sections.</tspan><tspan x="239" y="311.5">Assistance may be</tspan><tspan x="239" y="325">required.</tspan></text>
<text font-size="12" font-weight="bold" letter-spacing="0.42" fill="#2a2a2a"><tspan x="448" y="282.3">Norris Geyser Basin</tspan><tspan x="448" y="295.6">Visitor Center</tspan></text>
<text x="521.7" y="241.5" font-size="8.8" font-style="italic" fill="#6a6a6a">Porcelain Basin Overlook</text>
<text x="609.4" y="350.3" font-size="8.7" font-style="italic" fill="#555">RVs &amp; Buses</text>
<text x="515" y="423.7" font-size="8.6" font-style="italic" fill="#555">Cars</text>
<text transform="translate(692 107) rotate(-59)" font-size="9" font-style="italic" fill="#555">To Norris Campground</text>
<text transform="translate(751.5 433) rotate(-82)" font-size="8.9" font-style="italic" fill="#333"><tspan x="0" y="0">To Norris Junction,</tspan><tspan x="0" y="12">Campground, and</tspan><tspan x="0" y="24">Ranger Museum</tspan></text>
<path d="M 760 355 V 345" stroke="#111" stroke-width="1.2"/><path d="M 760 340.5 L 757.3 346.5 H 762.7 Z" fill="#111"/>
<text transform="translate(43 354) rotate(46)" font-size="8.8" font-style="italic" fill="#2f4f8f">Tantalus Creek</text>
<text transform="translate(48.6 441.6) rotate(86)" font-size="8.8" font-style="italic" fill="#2f4f8f">South Fork Tantalus Creek</text>
<text transform="translate(198 134.7) rotate(10.5)" font-size="8.8" font-style="italic" fill="#2f4f8f">East Fork Tantalus Creek</text>
<text font-size="8.8" font-style="italic" fill="#2a5aa8"><tspan x="295.5" y="194.6">Crackling</tspan><tspan x="304" y="205">Lake</tspan></text>
<text transform="translate(694.8 186.3) rotate(33)" font-size="8.8" font-style="italic" fill="#2a5aa8"><tspan x="0" y="0">Nuphar</tspan><tspan x="5" y="10.5">Lake</tspan></text>
<g transform="translate(591 348.8) rotate(219)"><path d="M -2.6 0 H 1" stroke="#fff" stroke-width="1"/><path d="M 3 0 L 0.3 -1.8 L 0.3 1.8 Z" fill="#fff"/></g>
<text transform="translate(595.5 352.2) rotate(39)" font-size="3.6" fill="#e6e8e9">ONE WAY</text>
<g transform="translate(568.6 387.8) rotate(245)"><path d="M -2.6 0 H 1" stroke="#fff" stroke-width="1"/><path d="M 3 0 L 0.3 -1.8 L 0.3 1.8 Z" fill="#fff"/></g>
<text transform="translate(570.4 392.2) rotate(65)" font-size="3.6" fill="#e6e8e9">ONE WAY</text>
<g transform="translate(553.4 430.6) rotate(69)"><path d="M -2.6 0 H 1" stroke="#fff" stroke-width="1"/><path d="M 3 0 L 0.3 -1.8 L 0.3 1.8 Z" fill="#fff"/></g>
<text transform="translate(543.2 408.5) rotate(69)" font-size="3.6" fill="#e6e8e9">ONE WAY</text>
<text x="10.8" y="953" font-size="12.6" fill="#222">North</text>
<circle cx="26.8" cy="970.5" r="15" fill="none" stroke="#111" stroke-width="2.5"/>
<path d="M 27 981 V 963" stroke="#111" stroke-width="1.4"/><path d="M 21.5 967.5 L 27 961.5 L 32.5 967.5" fill="none" stroke="#111" stroke-width="1.4"/>
<text font-size="9.6" fill="#222"><tspan x="65.6" y="941.7">Feet</tspan><tspan x="66" y="955.7">0</tspan><tspan x="142.3" y="955.7">330</tspan><tspan x="221.8" y="955.7">660</tspan><tspan x="66" y="987">0</tspan><tspan x="141" y="987">100</tspan><tspan x="221.8" y="987">200</tspan><tspan x="66" y="1000.9">Meters</tspan></text>
<rect x="67" y="964" width="163.2" height="4.8" fill="#fff" stroke="#bbb" stroke-width="0.6"/>
<rect x="67" y="964" width="81.7" height="4.8" fill="#222"/>
<rect x="67" y="972.4" width="163.2" height="4.8" fill="#fff" stroke="#bbb" stroke-width="0.6"/>
<rect x="148.7" y="972.4" width="81.5" height="4.8" fill="#222"/>
<path d="M 271.6 936.4 H 291.7" stroke="#222" stroke-width="4.8" stroke-dasharray="1.2 1"/>
<path d="M 271.6 948.5 H 279.6" stroke="#c0506a" stroke-width="4.8" stroke-dasharray="1 1.6"/><path d="M 281.1 948.5 H 291.4" stroke="#b42a4c" stroke-width="4.8"/>
<path d="M 272 960.4 H 291.4" stroke="#1a1a1a" stroke-width="4.4"/>
<path d="M 272 972.3 H 291.4" stroke="#999" stroke-width="3.2" stroke-dasharray="2.6 2.9"/>
<rect x="272" y="980.5" width="19.4" height="9.2" fill="#7b878e"/>
<circle cx="281.8" cy="997.5" r="4.3" fill="#962c2c"/>
<text font-size="8.6" fill="#333"><tspan x="296.3" y="939.5">Boardwalk, may require assistance</tspan><tspan x="296.3" y="951.3">Stairs or steep grade</tspan><tspan x="296.3" y="963.6">Improved trail, may be paved; may require assistance</tspan><tspan x="296.3" y="975.3">Trail</tspan><tspan x="296.3" y="987.6">Road</tspan><tspan x="296.3" y="999.7">Hydrothermal feature</tspan></text>
<g transform="translate(527.3,932.6) scale(0.5485714285714286)"><rect x="0" y="0" width="17.5" height="17.5" rx="2.2" fill="#111"/><circle cx="8.75" cy="8.75" r="6.9" fill="none" stroke="#fff" stroke-width="1"/><path d="M6.2 6.6 C6.2 4.9 7.4 4 8.8 4 C10.3 4 11.4 5 11.4 6.4 C11.4 7.8 10.3 8.3 9.6 8.9 C9 9.4 8.9 9.9 8.9 10.9" fill="none" stroke="#fff" stroke-width="1.5"/><circle cx="8.9" cy="13.2" r="0.95" fill="#fff"/></g>
<g transform="translate(527.3,944.9) scale(0.5485714285714286)"><rect x="0" y="0" width="17.5" height="17.5" rx="2.2" fill="#111"/><circle cx="8.3" cy="4.4" r="2.1" fill="#fff"/><path d="M5.6 7.4 H11 L15.2 13.2 H2.2 Z" fill="#fff"/><path d="M5.2 8.6 L8.3 9.6 L11.4 8.6 L10.8 11.2 L8.3 12 L5.8 11.2 Z" fill="#111"/><path d="M2.4 14.8 H15" stroke="#fff" stroke-width="0.7"/></g>
<g transform="translate(527.3,957.2) scale(0.5529411764705883)"><rect x="0" y="0" width="17" height="17" rx="2" fill="#111"/><text x="8.5" y="14" text-anchor="middle" font-family='"Liberation Sans", sans-serif' font-weight="bold" font-size="15.5" fill="#fff">P</text></g>
<g transform="translate(527.3,969.4) scale(0.5333333333333333)"><rect x="0" y="0" width="18" height="17" rx="2" fill="#111"/><circle cx="5" cy="3.6" r="1.5" fill="#fff"/><path d="M3.2 5.6 H6.8 L8 10.5 H6.4 V14.5 H3.6 V10.5 H2 Z" fill="#fff"/><rect x="8.6" y="2.5" width="0.8" height="12.5" fill="#fff"/><circle cx="13" cy="3.6" r="1.5" fill="#fff"/><path d="M10.9 5.6 H15.1 V10.5 H14.2 V14.5 H11.8 V10.5 H10.9 Z" fill="#fff"/></g>
<path d="M 526.2 985.3 L 536.8 986.6" stroke="#6cb5de" stroke-width="1.8"/>
<path d="M 528 996 C 530 994 534 994.5 536 995.5 C 537.5 998 537 1001 535 1002.3 C 532 1003 529 1002.8 527.8 1001.5 C 526.8 999.5 527 997.5 528 996 Z" fill="#65b4e6"/>
<text font-size="8.4" letter-spacing="0.35" fill="#333"><tspan x="541.8" y="940">Information</tspan><tspan x="541.8" y="952.3">Bookstore</tspan><tspan x="541.8" y="964.6">Parking</tspan><tspan x="541.8" y="976.9">Restrooms</tspan><tspan x="541.8" y="989.2">Stream</tspan><tspan x="541.8" y="1001.5">Lake</tspan></text>
</svg></body></html>
